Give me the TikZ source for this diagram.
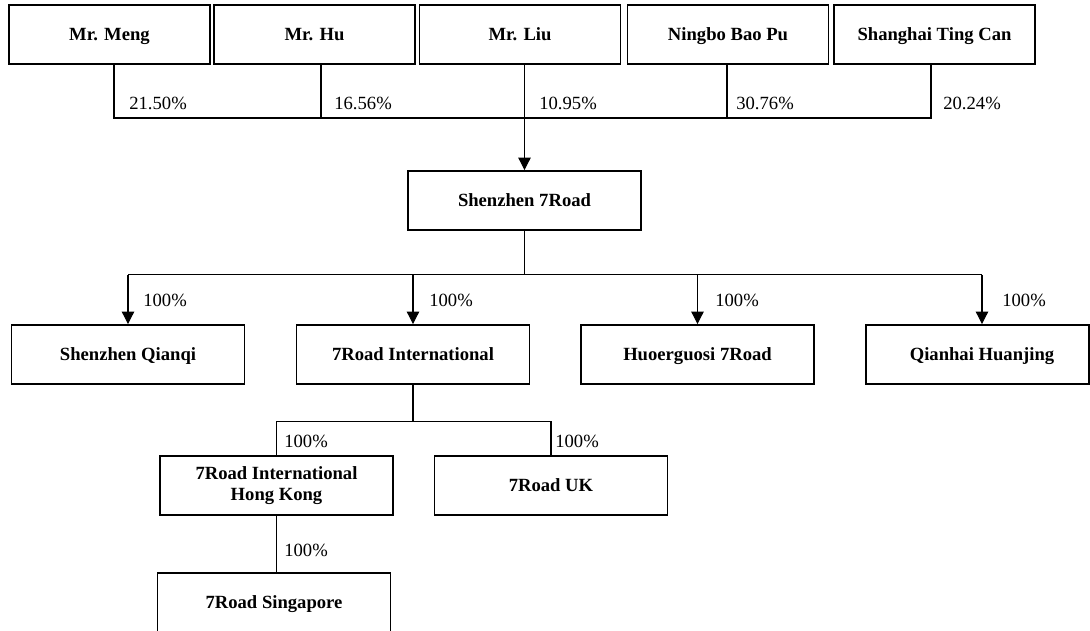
\documentclass[tikz,border=0pt]{standalone}
\usepackage{fontspec}
\setmainfont{Liberation Serif}
\usetikzlibrary{calc,arrows.meta}

\begin{document}
\begin{tikzpicture}[x=0.02cm,y=-0.02cm,
    owner/.style={draw,line width=1.1pt,minimum width=4.02cm,minimum height=1.18cm,
        font=\fontsize{10.6}{12.4}\selectfont\bfseries,text height=1.5ex,text depth=0.1ex},
    company/.style={owner,minimum width=4.66cm},
    twoline/.style={company,text height=,text depth=,align=center},
    pct/.style={anchor=west,inner sep=0pt,font=\fontsize{10.6}{12.4}\selectfont},
    link/.style={line width=0.6pt},
    arrow/.style={link,-{Triangle[length=7pt,width=7pt]}}]
    \useasboundingbox (0,0) rectangle (1090,630);
    \clip (0,0) rectangle (1090,630);

    \node[owner] (meng) at (109.5,34.5) {Mr. Meng};
    \node[owner] (hu) at (314.5,34.5) {Mr. Hu};
    \node[owner] (liu) at (520,34.5) {Mr. Liu};
    \node[owner] (ningbo) at (728,34.5) {Ningbo Bao Pu};
    \node[owner] (tingcan) at (934.5,34.5) {Shanghai Ting Can};

    \node[company] (s7road) at (524.5,200.5) {Shenzhen 7Road};

    \node[company] (qianqi) at (128,354.5) {Shenzhen Qianqi};
    \node[company] (intl) at (413,354.5) {7Road International};
    \node[company] (huoer) at (697.5,354.5) {Huoerguosi 7Road};
    \node[company,minimum width=4.46cm] (qianhai) at (977.5,354.5) {\hspace*{0.18cm}Qianhai Huanjing};

    \node[twoline] (hk) at (276.5,485.5) {7Road International\\Hong Kong};
    \node[company] (uk) at (551,485.5) {7Road UK};
    \node[company] (sing) at (274,602.5) {7Road Singapore};

    \coordinate (bus) at (0,118);
    \draw[link] ($(meng.south)+(4.5,0)$) |- ($(tingcan.south |- bus)+(-3.5,0)$) -- ($(tingcan.south)+(-3.5,0)$);
    \draw[link] ($(hu.south)+(6.5,0)$) -- ($(hu.south |- bus)+(6.5,0)$);
    \draw[link] ($(ningbo.south)+(-1,0)$) -- ($(ningbo.south |- bus)+(-1,0)$);
    \draw[arrow] (liu.south -| s7road.north) -- (s7road.north);

    \node[pct] (p1) at (129,103) {21.50\%};
    \node[pct] (p2) at (334,103) {16.56\%};
    \node[pct] (p3) at (539,103) {10.95\%};
    \node[pct] (p4) at (736,103) {30.76\%};
    \node[pct] (p5) at (943,103) {20.24\%};

    \draw[link] (s7road.south) -- ++(0,44) coordinate (hub);
    \draw[link] (qianqi.north |- hub) -- ($(qianhai.north |- hub)+(4.5,0)$);
    \draw[arrow] (qianqi.north |- hub) -- (qianqi.north);
    \draw[arrow] (intl.north |- hub) -- (intl.north);
    \draw[arrow] (huoer.north |- hub) -- (huoer.north);
    \draw[arrow] ($(qianhai.north |- hub)+(4.5,0)$) -- ($(qianhai.north)+(4.5,0)$);

    \node[pct] (q1) at (143,300) {100\%};
    \node[pct] (q2) at (429,300) {100\%};
    \node[pct] (q3) at (715,300) {100\%};
    \node[pct] (q4) at (1002,300) {100\%};

    \draw[link] (intl.south) -- ++(0,37) coordinate (hub2);
    \draw[link] (hk.north) -- (hk.north |- hub2) -- (uk.north |- hub2) -- (uk.north);
    \draw[link] (hk.south) -- (hk.south |- sing.north);

    \node[pct] (r1) at (284,441) {100\%};
    \node[pct] (r2) at (555,441) {100\%};
    \node[pct] (r3) at (284,550) {100\%};
\end{tikzpicture}
\end{document}
